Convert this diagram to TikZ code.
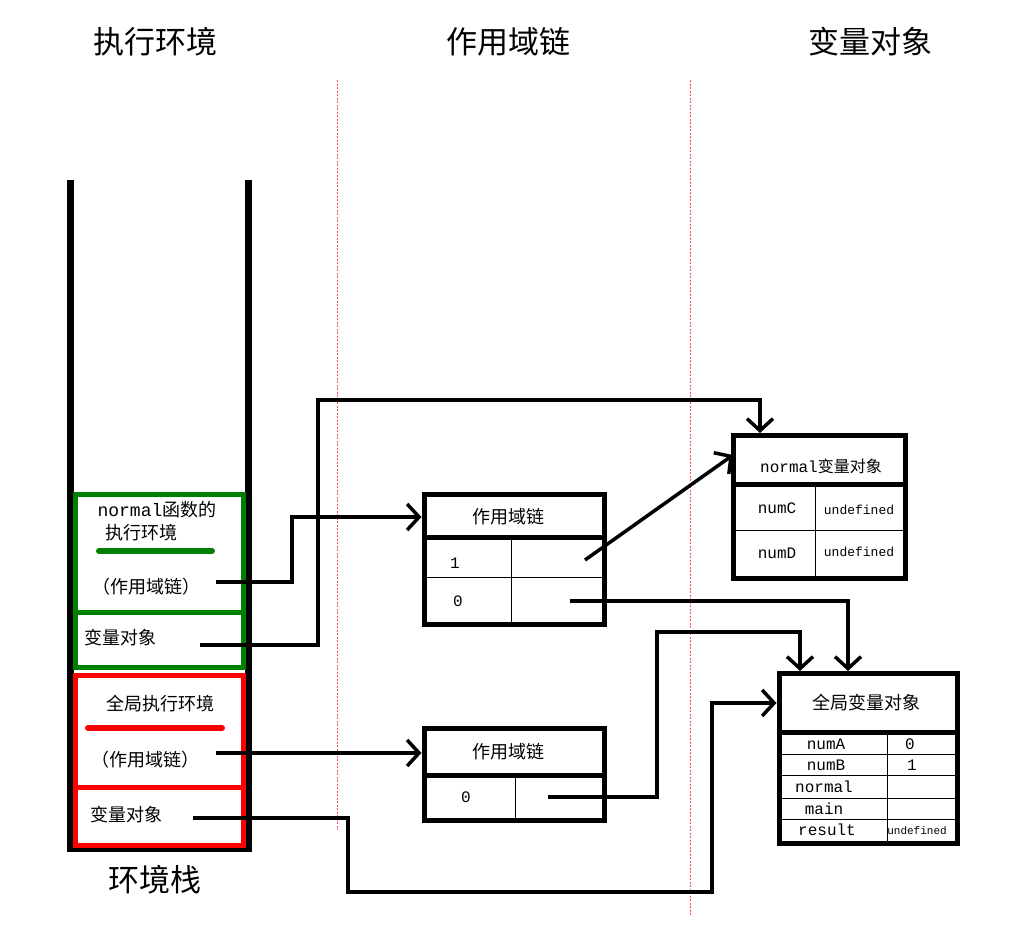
\documentclass[tikz,border=0pt]{standalone}
\usepackage{fontspec}
\setmainfont{Liberation Mono}
\newfontfamily\cjk{Noto Sans CJK SC}
\usetikzlibrary{arrows.meta}
\begin{document}
\begin{tikzpicture}[x=1pt,y=-1pt,
  box/.style={draw=black,line width=5pt,inner sep=0pt},
  thin/.style={line width=1pt},
  conn/.style={line width=3.5pt,-{Straight Barb[length=12pt,width=26pt,line width=3.5pt]}},
  wall/.style={line width=7pt},
  guide/.style={draw=red!70,line width=0.7pt,dash pattern=on 2pt off 1.5pt},
  title/.style={font=\cjk\fontsize{31}{33}\selectfont},
  lab/.style={font=\cjk\fontsize{18}{20}\selectfont,inner sep=0pt},
  mono/.style={font=\fontsize{16}{18}\selectfont,inner sep=0pt},
  small/.style={font=\fontsize{13}{14}\selectfont,inner sep=0pt}]
\useasboundingbox (0,0) rectangle (1013,926);
% titles
\node[title] (t1) at (155,42) {执行环境};
\node[title] (t2) at (508,42) {作用域链};
\node[title] (t3) at (870,42) {变量对象};
\node[title] (t4) at (155,880) {环境栈};
% guides
\draw[guide] (337,80) -- (337,830);
\draw[guide] (690,80) -- (690,915);
% stack
\draw[wall] (70,180) -- (70,848) -- (248,848) -- (248,180);
% green frame
\draw[draw=green!50!black,line width=5pt] (75,494) rectangle (243,667);
\draw[draw=green!50!black,line width=5pt] (75,612) -- (243,612);
\draw[draw=green!50!black,line width=6pt,line cap=round] (99,551) -- (212,551);
% red frame
\draw[draw=red,line width=5pt] (75,675) rectangle (243,845);
\draw[draw=red,line width=5pt] (75,787) -- (243,787);
\draw[draw=red,line width=6pt,line cap=round] (88,728) -- (222,728);
% stack texts
\node[lab] (g1) at (157,510) {\fontspec{Liberation Mono}normal\cjk 函数的};
\node[lab] (g2) at (141,533) {执行环境};
\node[lab] (g3) at (146,587) {（作用域链）};
\node[lab] (g4) at (120,638) {变量对象};
\node[lab] (r1) at (160,704) {全局执行环境};
\node[lab] (r2) at (145,760) {（作用域链）};
\node[lab] (r3) at (126,815) {变量对象};
% scope chain box 1
\node[box,minimum width=180pt,minimum height=130pt] (sc1) at (514,559) {};
\draw[line width=5pt] (424,537) -- (604,537);
\draw[thin] (424,577) -- (604,577);
\draw[thin] (511,537) -- (511,624);
\node[lab] (sc1h) at (508,517) {作用域链};
\node[mono] (sc1a) at (455,563) {1};
\node[mono] (sc1b) at (458,601) {0};
% scope chain box 2
\node[box,minimum width=180pt,minimum height=92pt] (sc2) at (514,774) {};
\draw[line width=5pt] (424,775) -- (604,775);
\draw[thin] (515,775) -- (515,820);
\node[lab] (sc2h) at (508,752) {作用域链};
\node[mono] (sc2a) at (466,797) {0};
% normal variable object
\node[box,minimum width=172pt,minimum height=143pt] (vo1) at (819,506.5) {};
\draw[line width=5pt] (733,484) -- (905,484);
\draw[thin] (733,530) -- (905,530);
\draw[thin] (815,484) -- (815,578);
\node[mono] (vo1h) at (821,466) {normal\cjk 变量对象};
\node[mono] (vo1a) at (777,508) {numC};
\node[small] (vo1b) at (859,510) {undefined};
\node[mono] (vo1c) at (777,553) {numD};
\node[small] (vo1d) at (859,552) {undefined};
% global variable object
\node[box,minimum width=178pt,minimum height=170pt] (vo2) at (868,758) {};
\draw[line width=5pt] (779,732) -- (957,732);
\foreach \yy in {754,775,798,819} \draw[thin] (779,\yy) -- (957,\yy);
\draw[thin] (887,732) -- (887,843);
\node[lab] (vo2h) at (866,703) {全局变量对象};
\node[mono] (n1) at (826,744) {numA};
\node[mono] (n2) at (826,765) {numB};
\node[mono] (n3) at (824,787) {normal};
\node[mono] (n4) at (824,809) {main};
\node[mono] (n5) at (827,830) {result};
\node[mono] (v1) at (910,744) {0};
\node[mono] (v2) at (912,765) {1};
\node[font=\fontsize{11}{12}\selectfont,inner sep=0pt] (v5) at (917,831) {undefined};
% connector endpoints
\coordinate (a1) at (216,582);
\coordinate (a2) at (200,645);
\coordinate (a3) at (585,560);
\coordinate (a4) at (570,601);
\coordinate (a5) at (216,753);
\coordinate (a6) at (548,797);
\coordinate (a7) at (193,818);
% connectors
\draw[conn] (a1) -- (292,582) -- (292,517) -- (sc1.west|-sc1h);
\draw[conn] (a2) -- (318,645) -- (318,400) -- (760,400) -- (760,433);
\draw[conn] (a3) -- (733,455);
\draw[conn] (a4) -- (848,601) -- (848,671);
\draw[conn] (a5) -- (sc2.west|-a5);
\draw[conn] (a6) -- (657,797) -- (657,632) -- (800,632) -- (800,671);
\draw[conn] (a7) -- (348,818) -- (348,892) -- (712,892) -- (712,703) -- (vo2.west|-vo2h);
\end{tikzpicture}
\end{document}
